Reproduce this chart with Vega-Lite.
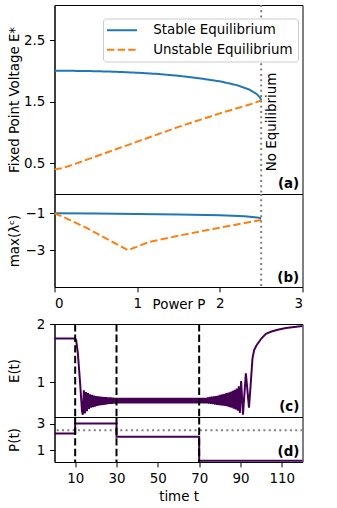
{
  "$schema": "https://vega.github.io/schema/vega-lite/v6.json",
  "padding": {"left": 5.5, "top": 3, "right": 0, "bottom": 0},
  "config": {
    "font": "DejaVu Sans",
    "view": {"stroke": "black", "strokeWidth": 1},
    "axis": {
      "labelFont": "DejaVu Sans", "titleFont": "DejaVu Sans",
      "labelFontSize": 13.4, "titleFontSize": 13.4, "titleFontWeight": "normal",
      "labelColor": "black", "titleColor": "black", "tickColor": "black", "domainColor": "black",
      "tickSize": 4.9, "labelPadding": 4.9, "grid": false, "tickWidth": 1
    },
    "legend": {"labelFont": "DejaVu Sans"}
  },
  "datasets": {
    "eq": [
      {"P": 0, "E": 2.0, "type": "Stable Equilibrium"},
      {"P": 0.25, "E": 2.0, "type": "Stable Equilibrium"},
      {"P": 0.5, "E": 1.995, "type": "Stable Equilibrium"},
      {"P": 0.75, "E": 1.985, "type": "Stable Equilibrium"},
      {"P": 1.0, "E": 1.97, "type": "Stable Equilibrium"},
      {"P": 1.25, "E": 1.95, "type": "Stable Equilibrium"},
      {"P": 1.5, "E": 1.92, "type": "Stable Equilibrium"},
      {"P": 1.75, "E": 1.88, "type": "Stable Equilibrium"},
      {"P": 2.0, "E": 1.83, "type": "Stable Equilibrium"},
      {"P": 2.2, "E": 1.77, "type": "Stable Equilibrium"},
      {"P": 2.35, "E": 1.7, "type": "Stable Equilibrium"},
      {"P": 2.45, "E": 1.62, "type": "Stable Equilibrium"},
      {"P": 2.49, "E": 1.56, "type": "Stable Equilibrium"},
      {"P": 2.5, "E": 1.52, "type": "Stable Equilibrium"},
      {"P": 0, "E": 0.4, "type": "Unstable Equilibrium"},
      {"P": 0.1, "E": 0.42, "type": "Unstable Equilibrium"},
      {"P": 0.25, "E": 0.49, "type": "Unstable Equilibrium"},
      {"P": 0.5, "E": 0.61, "type": "Unstable Equilibrium"},
      {"P": 0.75, "E": 0.73, "type": "Unstable Equilibrium"},
      {"P": 1.0, "E": 0.85, "type": "Unstable Equilibrium"},
      {"P": 1.25, "E": 0.97, "type": "Unstable Equilibrium"},
      {"P": 1.5, "E": 1.09, "type": "Unstable Equilibrium"},
      {"P": 1.75, "E": 1.2, "type": "Unstable Equilibrium"},
      {"P": 2.0, "E": 1.31, "type": "Unstable Equilibrium"},
      {"P": 2.25, "E": 1.41, "type": "Unstable Equilibrium"},
      {"P": 2.4, "E": 1.47, "type": "Unstable Equilibrium"},
      {"P": 2.5, "E": 1.52, "type": "Unstable Equilibrium"}
    ],
    "lam": [
      {"P": 0, "L": -1.0, "type": "stable"},
      {"P": 0.5, "L": -1.01, "type": "stable"},
      {"P": 1.0, "L": -1.03, "type": "stable"},
      {"P": 1.5, "L": -1.06, "type": "stable"},
      {"P": 2.0, "L": -1.11, "type": "stable"},
      {"P": 2.3, "L": -1.16, "type": "stable"},
      {"P": 2.45, "L": -1.22, "type": "stable"},
      {"P": 2.5, "L": -1.27, "type": "stable"},
      {"P": 0, "L": -1.0, "type": "unstable"},
      {"P": 0.1, "L": -1.18, "type": "unstable"},
      {"P": 0.4, "L": -1.82, "type": "unstable"},
      {"P": 0.887, "L": -3.0, "type": "unstable"},
      {"P": 1.15, "L": -2.55, "type": "unstable"},
      {"P": 1.55, "L": -2.17, "type": "unstable"},
      {"P": 1.95, "L": -1.82, "type": "unstable"},
      {"P": 2.5, "L": -1.36, "type": "unstable"}
    ],
    "Et": [
      {"t": 0, "E": 1.75}, {"t": 10, "E": 1.75}, {"t": 10.5, "E": 1.72}, {"t": 11.3, "E": 1.5},
      {"t": 12.4, "E": 0.98}, {"t": 13.3, "E": 0.5}, {"t": 13.7, "E": 0.44},
      {"t": 14.2, "E": 0.86}, {"t": 14.7, "E": 0.46}, {"t": 15.2, "E": 0.83}, {"t": 15.7, "E": 0.5},
      {"t": 16.2, "E": 0.81}, {"t": 16.7, "E": 0.54}, {"t": 17.2, "E": 0.79}, {"t": 17.7, "E": 0.56},
      {"t": 18.2, "E": 0.78}, {"t": 18.7, "E": 0.57}, {"t": 19.2, "E": 0.77}, {"t": 19.7, "E": 0.58},
      {"t": 20.2, "E": 0.76}, {"t": 20.7, "E": 0.59}, {"t": 21.2, "E": 0.755}, {"t": 21.7, "E": 0.6},
      {"t": 22.2, "E": 0.75}, {"t": 22.7, "E": 0.605}, {"t": 23.2, "E": 0.745}, {"t": 23.7, "E": 0.61},
      {"t": 24.2, "E": 0.74}, {"t": 24.7, "E": 0.615}, {"t": 25.2, "E": 0.74}, {"t": 25.7, "E": 0.62},
      {"t": 26.2, "E": 0.735}, {"t": 26.7, "E": 0.625}, {"t": 27.2, "E": 0.735}, {"t": 27.7, "E": 0.628},
      {"t": 28.2, "E": 0.732}, {"t": 28.7, "E": 0.63}, {"t": 29.2, "E": 0.73}, {"t": 29.7, "E": 0.632},
      {"t": 30.2, "E": 0.73}, {"t": 30.7, "E": 0.635}, {"t": 31.2, "E": 0.73}, {"t": 31.7, "E": 0.635},
      {"t": 32.2, "E": 0.73}, {"t": 32.7, "E": 0.635}, {"t": 33.2, "E": 0.73}, {"t": 33.7, "E": 0.635},
      {"t": 34.2, "E": 0.73}, {"t": 34.7, "E": 0.635}, {"t": 35.2, "E": 0.73}, {"t": 35.7, "E": 0.635},
      {"t": 36.2, "E": 0.73}, {"t": 36.7, "E": 0.635}, {"t": 37.2, "E": 0.73}, {"t": 37.7, "E": 0.635},
      {"t": 38.2, "E": 0.73}, {"t": 38.7, "E": 0.635}, {"t": 39.2, "E": 0.73}, {"t": 39.7, "E": 0.635},
      {"t": 40.2, "E": 0.73}, {"t": 40.7, "E": 0.635}, {"t": 41.2, "E": 0.73}, {"t": 41.7, "E": 0.635},
      {"t": 42.2, "E": 0.73}, {"t": 42.7, "E": 0.635}, {"t": 43.2, "E": 0.73}, {"t": 43.7, "E": 0.635},
      {"t": 44.2, "E": 0.73}, {"t": 44.7, "E": 0.635}, {"t": 45.2, "E": 0.73}, {"t": 45.7, "E": 0.635},
      {"t": 46.2, "E": 0.73}, {"t": 46.7, "E": 0.635}, {"t": 47.2, "E": 0.73}, {"t": 47.7, "E": 0.635},
      {"t": 48.2, "E": 0.73}, {"t": 48.7, "E": 0.635}, {"t": 49.2, "E": 0.73}, {"t": 49.7, "E": 0.635},
      {"t": 50.2, "E": 0.73}, {"t": 50.7, "E": 0.635}, {"t": 51.2, "E": 0.73}, {"t": 51.7, "E": 0.635},
      {"t": 52.2, "E": 0.73}, {"t": 52.7, "E": 0.635}, {"t": 53.2, "E": 0.73}, {"t": 53.7, "E": 0.635},
      {"t": 54.2, "E": 0.73}, {"t": 54.7, "E": 0.635}, {"t": 55.2, "E": 0.73}, {"t": 55.7, "E": 0.635},
      {"t": 56.2, "E": 0.73}, {"t": 56.7, "E": 0.635}, {"t": 57.2, "E": 0.73}, {"t": 57.7, "E": 0.635},
      {"t": 58.2, "E": 0.73}, {"t": 58.7, "E": 0.635}, {"t": 59.2, "E": 0.73}, {"t": 59.7, "E": 0.635},
      {"t": 60.2, "E": 0.73}, {"t": 60.7, "E": 0.635}, {"t": 61.2, "E": 0.73}, {"t": 61.7, "E": 0.635},
      {"t": 62.2, "E": 0.73}, {"t": 62.7, "E": 0.635}, {"t": 63.2, "E": 0.73}, {"t": 63.7, "E": 0.635},
      {"t": 64.2, "E": 0.73}, {"t": 64.7, "E": 0.635}, {"t": 65.2, "E": 0.73}, {"t": 65.7, "E": 0.635},
      {"t": 66.2, "E": 0.73}, {"t": 66.7, "E": 0.635}, {"t": 67.2, "E": 0.73}, {"t": 67.7, "E": 0.635},
      {"t": 68.2, "E": 0.73}, {"t": 68.7, "E": 0.635}, {"t": 69.2, "E": 0.73}, {"t": 69.7, "E": 0.635},
      {"t": 70.2, "E": 0.73}, {"t": 70.7, "E": 0.635}, {"t": 71.2, "E": 0.73}, {"t": 71.7, "E": 0.635},
      {"t": 72.2, "E": 0.73}, {"t": 72.7, "E": 0.635}, {"t": 73.2, "E": 0.73}, {"t": 73.7, "E": 0.635},
      {"t": 74.2, "E": 0.735}, {"t": 74.7, "E": 0.63}, {"t": 75.2, "E": 0.745}, {"t": 75.7, "E": 0.625},
      {"t": 76.2, "E": 0.75}, {"t": 76.7, "E": 0.62}, {"t": 77.2, "E": 0.755}, {"t": 77.7, "E": 0.615},
      {"t": 78.2, "E": 0.76}, {"t": 78.7, "E": 0.61}, {"t": 79.2, "E": 0.77}, {"t": 79.7, "E": 0.605},
      {"t": 80.2, "E": 0.78}, {"t": 80.7, "E": 0.6}, {"t": 81.2, "E": 0.79}, {"t": 81.7, "E": 0.595},
      {"t": 82.2, "E": 0.8}, {"t": 82.7, "E": 0.59}, {"t": 83.2, "E": 0.81}, {"t": 83.7, "E": 0.58},
      {"t": 84.2, "E": 0.82}, {"t": 84.7, "E": 0.57}, {"t": 85.2, "E": 0.835}, {"t": 85.7, "E": 0.56},
      {"t": 86.2, "E": 0.85}, {"t": 86.7, "E": 0.545}, {"t": 87.2, "E": 0.87}, {"t": 87.7, "E": 0.53},
      {"t": 88.2, "E": 0.89}, {"t": 88.7, "E": 0.51}, {"t": 89.2, "E": 0.93}, {"t": 89.7, "E": 0.47},
      {"t": 90.3, "E": 1.02}, {"t": 91.2, "E": 0.44}, {"t": 92.6, "E": 1.15}, {"t": 94.1, "E": 0.56},
      {"t": 94.9, "E": 0.95}, {"t": 95.8, "E": 1.41}, {"t": 96.6, "E": 1.55}, {"t": 97.7, "E": 1.63},
      {"t": 100.1, "E": 1.75}, {"t": 102.3, "E": 1.83}, {"t": 105, "E": 1.87}, {"t": 108, "E": 1.9},
      {"t": 112, "E": 1.93}, {"t": 116, "E": 1.95}, {"t": 120, "E": 1.965}
    ],
    "Pt": [
      {"t": 0, "P": 2.25}, {"t": 10, "P": 3.0}, {"t": 30, "P": 2.0}, {"t": 70, "P": 0.2}, {"t": 120, "P": 0.2}
    ],
    "switches": [{"t": 10}, {"t": 30}, {"t": 70}]
  },
  "resolve": {"scale": {"color": "independent", "strokeDash": "independent"}, "legend": {"color": "independent", "strokeDash": "independent"}},
  "spacing": 4,
  "vconcat": [
    {
      "spacing": 0,
      "bounds": "flush",
      "resolve": {"scale": {"color": "independent", "strokeDash": "independent"}, "legend": {"color": "independent", "strokeDash": "independent"}},
      "vconcat": [
        {
          "width": 248, "height": 189,
          "layer": [
            {
              "data": {"name": "eq"},
              "mark": {"type": "line", "strokeWidth": 2},
              "encoding": {
                "x": {"field": "P", "type": "quantitative", "scale": {"domain": [0, 3], "nice": false}, "axis": null},
                "y": {"field": "E", "type": "quantitative", "scale": {"domain": [0, 3.07], "nice": false, "zero": false},
                  "axis": {"title": "Fixed Point Voltage E*", "values": [0.5, 1.5, 2.5], "format": ".1f", "titleX": -33.5}},
                "color": {"field": "type", "type": "nominal",
                  "scale": {"domain": ["Stable Equilibrium", "Unstable Equilibrium"], "range": ["#1f77b4", "#ff7f0e"]},
                  "legend": {"orient": "none", "legendX": 48.5, "legendY": 13.5, "title": null, "fillColor": "white", "strokeColor": "#cccccc", "cornerRadius": 3, "padding": 5, "labelFontSize": 13.4, "symbolType": "M-3,0H3", "symbolStrokeWidth": 2, "symbolSize": 100, "symbolOffset": 7.3, "labelOffset": 24.5, "rowPadding": 4.6}},
                "strokeDash": {"field": "type", "type": "nominal",
                  "scale": {"domain": ["Stable Equilibrium", "Unstable Equilibrium"], "range": [[1, 0], [7.4, 3.2]]},
                  "legend": {"orient": "none", "legendX": 48.5, "legendY": 13.5, "title": null, "fillColor": "white", "strokeColor": "#cccccc", "cornerRadius": 3, "padding": 5, "labelFontSize": 13.4, "symbolType": "M-3,0H3", "symbolStrokeWidth": 2, "symbolSize": 100, "symbolOffset": 7.3, "labelOffset": 24.5, "rowPadding": 4.6}}
              }
            },
            {
              "data": {"values": [{"P": 2.5}]},
              "mark": {"type": "rule", "color": "#808080", "strokeWidth": 2, "strokeDash": [2, 3.3]},
              "encoding": {"x": {"field": "P", "type": "quantitative"}}
            },
            {
              "data": {"values": [{"P": 2.625, "E": 1.17, "label": "No Equilibrium"}]},
              "mark": {"type": "text", "angle": 270, "align": "center", "baseline": "middle", "fontSize": 13.4, "color": "black"},
              "encoding": {"x": {"field": "P", "type": "quantitative"}, "y": {"field": "E", "type": "quantitative"}, "text": {"field": "label"}}
            },
            {
              "data": {"values": [{"P": 2.96, "E": 0.16, "label": "(a)"}]},
              "mark": {"type": "text", "align": "right", "baseline": "middle", "fontSize": 13.4, "fontWeight": "bold", "color": "black"},
              "encoding": {"x": {"field": "P", "type": "quantitative"}, "y": {"field": "E", "type": "quantitative"}, "text": {"field": "label"}}
            }
          ]
        },
        {
          "width": 248, "height": 93,
          "layer": [
            {
              "data": {"name": "lam"},
              "transform": [{"filter": "datum.type === 'stable'"}],
              "mark": {"type": "line", "strokeWidth": 2, "color": "#1f77b4"},
              "encoding": {
                "x": {"field": "P", "type": "quantitative", "scale": {"domain": [0, 3], "nice": false},
                  "axis": {"title": "Power P", "values": [0, 1, 2, 3], "format": "d", "titleY": 10.5, "titleBaseline": "top"}},
                "y": {"field": "L", "type": "quantitative", "scale": {"domain": [-5, 0.05], "nice": false, "zero": false},
                  "axis": {"title": "max(λᶜ)", "values": [-1, -3], "format": "d", "titleX": -33.5}}
              }
            },
            {
              "data": {"name": "lam"},
              "transform": [{"filter": "datum.type === 'unstable'"}],
              "mark": {"type": "line", "strokeWidth": 2, "color": "#ff7f0e", "strokeDash": [7.4, 3.2]},
              "encoding": {"x": {"field": "P", "type": "quantitative"}, "y": {"field": "L", "type": "quantitative"}}
            },
            {
              "data": {"values": [{"P": 2.5}]},
              "mark": {"type": "rule", "color": "#808080", "strokeWidth": 2, "strokeDash": [2, 3.3]},
              "encoding": {"x": {"field": "P", "type": "quantitative"}}
            },
            {
              "data": {"values": [{"P": 2.96, "L": -4.53, "label": "(b)"}]},
              "mark": {"type": "text", "align": "right", "baseline": "middle", "fontSize": 13.4, "fontWeight": "bold", "color": "black"},
              "encoding": {"x": {"field": "P", "type": "quantitative"}, "y": {"field": "L", "type": "quantitative"}, "text": {"field": "label"}}
            }
          ]
        }
      ]
    },
    {
      "spacing": 0,
      "bounds": "flush",
      "vconcat": [
        {
          "width": 248, "height": 93,
          "layer": [
            {
              "data": {"name": "Et"},
              "mark": {"type": "line", "strokeWidth": 2, "color": "#440154"},
              "encoding": {
                "x": {"field": "t", "type": "quantitative", "scale": {"domain": [0, 120], "nice": false}, "axis": null},
                "y": {"field": "E", "type": "quantitative", "scale": {"domain": [0.4, 2], "nice": false, "zero": false},
                  "axis": {"title": "E(t)", "values": [1, 2], "format": "d", "titleX": -33}}
              }
            },
            {
              "data": {"name": "switches"},
              "mark": {"type": "rule", "color": "black", "strokeWidth": 2, "strokeDash": [7.4, 3.2]},
              "encoding": {"x": {"field": "t", "type": "quantitative"}}
            },
            {
              "data": {"values": [{"t": 118.5, "E": 0.567, "label": "(c)"}]},
              "mark": {"type": "text", "align": "right", "baseline": "middle", "fontSize": 13.4, "fontWeight": "bold", "color": "black"},
              "encoding": {"x": {"field": "t", "type": "quantitative"}, "y": {"field": "E", "type": "quantitative"}, "text": {"field": "label"}}
            }
          ]
        },
        {
          "width": 248, "height": 45,
          "layer": [
            {
              "data": {"values": [{"P": 2.5}]},
              "mark": {"type": "rule", "color": "#808080", "strokeWidth": 2, "strokeDash": [2, 3.3]},
              "encoding": {"y": {"field": "P", "type": "quantitative"}}
            },
            {
              "data": {"name": "Pt"},
              "mark": {"type": "line", "strokeWidth": 2, "color": "#440154", "interpolate": "step-after"},
              "encoding": {
                "x": {"field": "t", "type": "quantitative", "scale": {"domain": [0, 120], "nice": false},
                  "axis": {"title": "time t", "values": [10, 30, 50, 70, 90, 110], "format": "d"}},
                "y": {"field": "P", "type": "quantitative", "scale": {"domain": [0.1, 3.5], "nice": false, "zero": false},
                  "axis": {"title": "P(t)", "values": [1, 3], "format": "d", "titleX": -33}}
              }
            },
            {
              "data": {"name": "switches"},
              "mark": {"type": "rule", "color": "black", "strokeWidth": 2, "strokeDash": [7.4, 3.2]},
              "encoding": {"x": {"field": "t", "type": "quantitative"}}
            },
            {
              "data": {"values": [{"t": 118.5, "P": 0.85, "label": "(d)"}]},
              "mark": {"type": "text", "align": "right", "baseline": "middle", "fontSize": 13.4, "fontWeight": "bold", "color": "black"},
              "encoding": {"x": {"field": "t", "type": "quantitative"}, "y": {"field": "P", "type": "quantitative"}, "text": {"field": "label"}}
            }
          ]
        }
      ]
    }
  ]
}
